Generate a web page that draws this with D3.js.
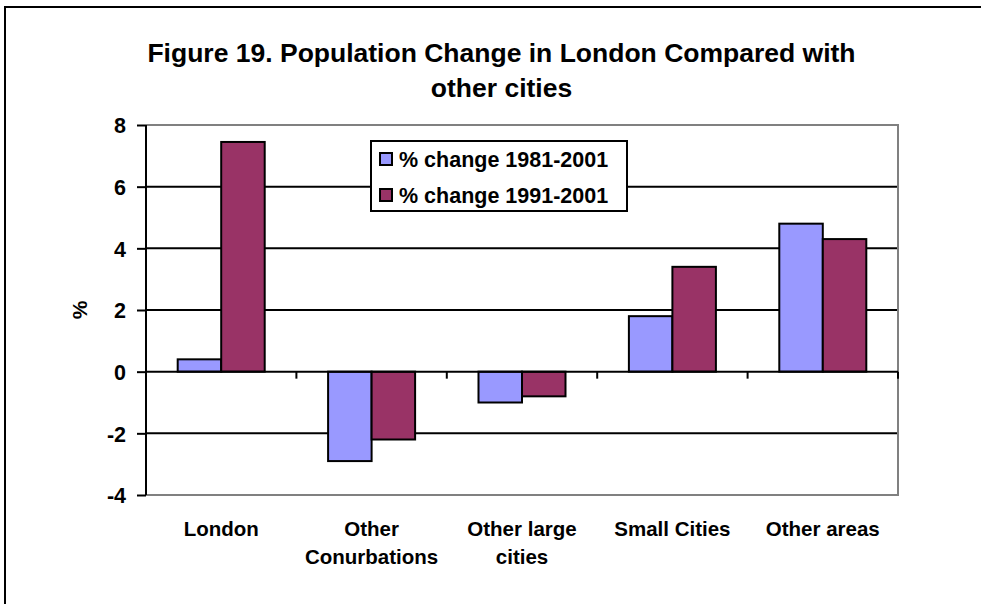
<!DOCTYPE html>
<html>
<head>
<meta charset="utf-8">
<script src="https://cdn.jsdelivr.net/npm/d3@7"></script>
<style>
  html, body { margin: 0; padding: 0; background: #fff; overflow: hidden; }
  svg { display: block; }
  text { font-family: "Liberation Sans", Arial, sans-serif; font-weight: bold; fill: #000; }
</style>
</head>
<body>
<svg id="chart" width="981" height="604"></svg>
<script>
const categories = [["London"], ["Other", "Conurbations"], ["Other large", "cities"], ["Small Cities"], ["Other areas"]];
const categoryKeys = ["London", "Other Conurbations", "Other large cities", "Small Cities", "Other areas"];
const seriesNames = ["% change 1981-2001", "% change 1991-2001"];
const change1981 = [0.4, -2.9, -1.0, 1.8, 4.8];
const change1991 = [7.45, -2.2, -0.8, 3.4, 4.3];
const yTicks = [-4, -2, 0, 2, 4, 6, 8];
const titleLines = ["Figure 19. Population Change in London Compared with", "other cities"];
const yTitle = "%";

const colors = ["#9999FF", "#993366"];
const svg = d3.select("#chart");
const plot = { left: 146, right: 898, top: 125, bottom: 495 };

// outer frame (only left and top visible)
svg.append("path").attr("d", "M5,604V7H981")
  .attr("fill", "none").attr("stroke", "#000").attr("stroke-width", 2);

// title
svg.append("g").selectAll("text").data(titleLines).join("text")
  .attr("x", 501.5).attr("y", (d, i) => 62 + i * 35)
  .attr("text-anchor", "middle").attr("font-size", 26.5).text(d => d);

const y = d3.scaleLinear().domain([-4, 8]).range([plot.bottom, plot.top]);
const x0 = d3.scaleBand().domain(categoryKeys).range([plot.left, plot.right])
  .paddingInner(0.4215).paddingOuter(0.4215 / 2);
const x1 = d3.scaleBand().domain([0, 1]).range([0, x0.bandwidth()]).padding(0);

// gridlines
svg.append("g").selectAll("line").data(yTicks.filter(t => t !== 0 && t !== -4 && t !== 8)).join("line")
  .attr("x1", plot.left).attr("x2", plot.right)
  .attr("y1", d => y(d)).attr("y2", d => y(d))
  .attr("stroke", "#000").attr("stroke-width", 2);

// plot area border (grey top/right/bottom)
svg.append("path")
  .attr("d", `M${plot.left},${y(8)}H${plot.right}V${y(-4)}H${plot.left}`)
  .attr("fill", "none").attr("stroke", "#808080").attr("stroke-width", 2);

// bars
const data = categoryKeys.map((c, i) => ({ c, v: [change1981[i], change1991[i]] }));
const groups = svg.append("g").selectAll("g").data(data).join("g")
  .attr("transform", d => `translate(${x0(d.c)},0)`);
groups.selectAll("rect").data(d => d.v.map((v, s) => ({ v, s }))).join("rect")
  .attr("x", d => x1(d.s)).attr("width", x1.bandwidth())
  .attr("y", d => y(Math.max(0, d.v))).attr("height", d => Math.abs(y(d.v) - y(0)))
  .attr("fill", d => colors[d.s]).attr("stroke", "#000").attr("stroke-width", 2);

// y axis
const yAxis = svg.append("g").attr("transform", `translate(${plot.left},0)`)
  .call(d3.axisLeft(y).tickValues(yTicks).tickSize(9).tickPadding(11).tickFormat(d => String(d)));
yAxis.select(".domain").attr("stroke", "#000").attr("stroke-width", 2)
  .attr("d", `M0,${y(8)}V${y(-4)}`);
yAxis.selectAll(".tick line").attr("stroke", "#000").attr("stroke-width", 2);
yAxis.selectAll(".tick text").attr("font-size", 21.5).attr("font-family", "Liberation Sans, Arial, sans-serif")
  .attr("font-weight", "bold").attr("fill", "#000").attr("dy", "0.36em");

// zero axis with category boundary ticks
const zeroAxis = svg.append("g").attr("transform", `translate(0,${y(0)})`);
zeroAxis.append("line").attr("x1", plot.left).attr("x2", plot.right)
  .attr("stroke", "#000").attr("stroke-width", 2);
const bounds = categoryKeys.map(c => x0(c) + x0.bandwidth() + x0.step() * 0.4215 / 2);
zeroAxis.selectAll("line.tk").data(bounds).join("line").attr("class", "tk")
  .attr("x1", d => d).attr("x2", d => d).attr("y1", 0).attr("y2", 7)
  .attr("stroke", "#000").attr("stroke-width", 2);

// category labels
const catG = svg.append("g").selectAll("text").data(categories).join("text")
  .attr("x", (d, i) => x0(categoryKeys[i]) + x0.bandwidth() / 2)
  .attr("y", 536).attr("text-anchor", "middle").attr("font-size", 20.5);
catG.selectAll("tspan").data(d => d).join("tspan")
  .attr("x", function () { return d3.select(this.parentNode).attr("x"); })
  .attr("dy", (d, i) => i === 0 ? 0 : 28).text(d => d);

// y title
svg.append("text").attr("transform", `translate(87,310) rotate(-90)`)
  .attr("text-anchor", "middle").attr("font-size", 21).text(yTitle);

// legend
const lg = svg.append("g");
lg.append("rect").attr("x", 371).attr("y", 141).attr("width", 256).attr("height", 70)
  .attr("fill", "#fff").attr("stroke", "#000").attr("stroke-width", 2);
const items = lg.selectAll("g").data(seriesNames).join("g")
  .attr("transform", (d, i) => `translate(0,${i * 36})`);
items.append("rect").attr("x", 380).attr("y", 153).attr("width", 12).attr("height", 12)
  .attr("fill", (d, i) => colors[i]).attr("stroke", "#000").attr("stroke-width", 2);
items.append("text").attr("x", 399).attr("y", 167).attr("font-size", 21.5).text(d => d);
</script>
</body>
</html>
